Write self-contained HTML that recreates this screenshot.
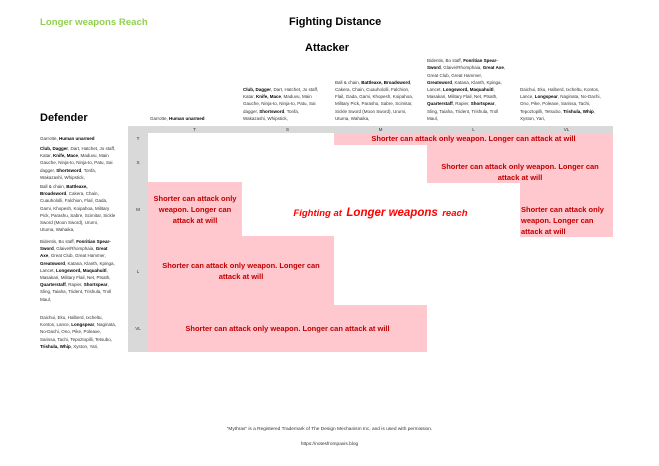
<!DOCTYPE html>
<html><head><meta charset="utf-8"><style>
*{margin:0;padding:0;box-sizing:border-box}
body{width:659px;height:466px;background:#fff;position:relative;overflow:hidden;font-family:"Liberation Sans",sans-serif;color:#222}
.a{position:absolute}
.g{background:#d9d9d9}
.p{background:#ffc7ce}
.s{font-size:4.5px;line-height:7.2px;white-space:nowrap;color:#333}
.s b{color:#000}
.lbl{font-size:4.6px;color:#333;text-align:center}
.r{color:#c00000;font-weight:bold;font-size:7.5px;line-height:11px;white-space:nowrap}
.c{text-align:center}
</style></head><body>
<div class="a" style="left:40px;top:17px;font-size:9.6px;font-weight:bold;color:#92d050">Longer weapons Reach</div>
<div class="a" style="left:289px;top:16px;font-size:11px;font-weight:bold;color:#000">Fighting Distance</div>
<div class="a" style="left:305px;top:42px;font-size:11px;font-weight:bold;color:#000">Attacker</div>
<div class="a" style="left:40px;top:112px;font-size:11px;font-weight:bold;color:#000">Defender</div>

<div class="a p" style="left:334px;top:133px;width:279px;height:12px"></div>
<div class="a p" style="left:427px;top:144px;width:186px;height:39px"></div>
<div class="a p" style="left:148px;top:182px;width:94px;height:55px"></div>
<div class="a p" style="left:520px;top:182px;width:93px;height:55px"></div>
<div class="a p" style="left:148px;top:236px;width:186px;height:70px"></div>
<div class="a p" style="left:148px;top:305px;width:279px;height:47px"></div>

<div class="a g" style="left:128px;top:126px;width:485px;height:7px"></div>
<div class="a g" style="left:128px;top:126px;width:20px;height:226px"></div>
<div class="a lbl" style="left:148px;top:126px;width:93px;line-height:7px">T</div>
<div class="a lbl" style="left:241px;top:126px;width:93px;line-height:7px">S</div>
<div class="a lbl" style="left:334px;top:126px;width:93px;line-height:7px">M</div>
<div class="a lbl" style="left:427px;top:126px;width:93px;line-height:7px">L</div>
<div class="a lbl" style="left:520px;top:126px;width:93px;line-height:7px">VL</div>
<div class="a lbl" style="left:128px;top:136px;width:20px">T</div>
<div class="a lbl" style="left:128px;top:160px;width:20px">S</div>
<div class="a lbl" style="left:128px;top:207px;width:20px">M</div>
<div class="a lbl" style="left:128px;top:269px;width:20px">L</div>
<div class="a lbl" style="left:128px;top:326px;width:20px">VL</div>

<div class="a s" style="left:150px;bottom:344px">Garrotte, <b>Human unarmed</b></div>
<div class="a s" style="left:243px;bottom:344px"><b>Club, Dagger</b>, Dart, Hatchet, Jo staff,<br>Katar, <b>Knife, Mace</b>, Maduvu, Main<br>Gauche, Ninja-to, Ninja-to, Patu, Sai<br>dagger, <b>Shortsword</b>, Tonfa,<br>Wakazashi, Whipstick,</div>
<div class="a s" style="left:335px;bottom:344px">Ball &amp; chain, <b>Battleaxe, Broadsword</b>,<br>Cakera, Chain, Cuauhololli, Falchion,<br>Flail, Gada, Gami, Khopesh, Koipahoa,<br>Military Pick, Parashu, Sabre, Scimitar,<br>Sickle Sword (Moon Sword), Urumi,<br>Utuma, Wahaika,</div>
<div class="a s" style="left:427px;bottom:344px">Bidentis, Bo staff, <b>Fonritian Spear-</b><br><b>Sword</b>, Glaive/Rhomphaia, <b>Great Axe</b>,<br>Great Club, Great Hammer,<br><b>Greatsword</b>, Katana, Klanth, Kpinga,<br>Lancet, <b>Longsword, Maquahuitl</b>,<br>Masakari, Military Flail, Net, Ptsath,<br><b>Quarterstaff</b>, Rapier, <b>Shortspear</b>,<br>Sling, Taiaha,  Trident, Trishula, Troll<br>Maul,</div>
<div class="a s" style="left:520px;bottom:344px">Daichui, Eku, Halberd, Ixcheltu, Kontos,<br>Lance, <b>Longspear</b>, Naginata, No-Dachi,<br>Ono, Pike, Poleaxe, Sarissa, Tachi,<br>Tepoztopilli, Tetsubo, <b>Trishula, Whip</b>,<br>Xyston, Yari,</div>

<div class="a s" style="left:40px;top:135px">Garrotte, <b>Human unarmed</b></div>
<div class="a s" style="left:40px;top:145px"><b>Club, Dagger</b>, Dart, Hatchet, Jo staff,<br>Katar, <b>Knife, Mace</b>, Maduvu, Main<br>Gauche, Ninja-to, Ninja-to, Patu, Sai<br>dagger, <b>Shortsword</b>, Tonfa,<br>Wakazashi, Whipstick,</div>
<div class="a s" style="left:40px;top:183px">Ball &amp; chain, <b>Battleaxe,</b><br><b>Broadsword</b>, Cakera, Chain,<br>Cuauhololli, Falchion, Flail, Gada,<br>Gami, Khopesh, Koipahoa, Military<br>Pick, Parashu, Sabre, Scimitar, Sickle<br>Sword (Moon Sword), Urumi,<br>Utuma, Wahaika,</div>
<div class="a s" style="left:40px;top:238px">Bidentis, Bo staff, <b>Fonritian Spear-</b><br><b>Sword</b>, Glaive/Rhomphaia, <b>Great</b><br><b>Axe</b>, Great Club, Great Hammer,<br><b>Greatsword</b>, Katana, Klanth, Kpinga,<br>Lancet, <b>Longsword, Maquahuitl</b>,<br>Masakari, Military Flail, Net, Ptsath,<br><b>Quarterstaff</b>, Rapier, <b>Shortspear</b>,<br>Sling, Taiaha,  Trident, Trishula, Troll<br>Maul,</div>
<div class="a s" style="left:40px;top:314px">Daichui, Eku, Halberd, Ixcheltu,<br>Kontos, Lance, <b>Longspear</b>, Naginata,<br>No-Dachi, Ono, Pike, Poleaxe,<br>Sarissa, Tachi, Tepoztopilli, Tetsubo,<br><b>Trishula, Whip</b>, Xyston, Yari,</div>

<div class="a r c" style="left:334px;top:133px;width:279px">Shorter can attack only weapon. Longer can attack at will</div>
<div class="a r c" style="left:427px;top:161px;width:186px">Shorter can attack only weapon. Longer can<br>attack at will</div>
<div class="a r c" style="left:148px;top:193px;width:94px">Shorter can attack only<br>weapon. Longer can<br>attack at will</div>
<div class="a r" style="left:521px;top:204px">Shorter can attack only<br>weapon. Longer can<br>attack at will</div>
<div class="a r c" style="left:148px;top:260px;width:186px">Shorter can attack only weapon. Longer can<br>attack at will</div>
<div class="a r c" style="left:148px;top:323px;width:279px">Shorter can attack only weapon. Longer can attack at will</div>

<div class="a c" style="left:241px;top:203px;width:279px;color:#ff0000;font-weight:bold;font-style:italic;white-space:nowrap"><span style="font-size:9.5px">Fighting at</span> <span style="font-size:11.5px">Longer weapons</span> <span style="font-size:9.5px">reach</span></div>

<div class="a c" style="left:0;top:427px;width:659px;font-size:4.8px;color:#333">“Mythras” is a Registered Trademark of The Design Mechanism Inc, and is used with permission.</div>
<div class="a c" style="left:0;top:442px;width:659px;font-size:4.8px;color:#333">https://notesfrompaxis.blog</div>
</body></html>
